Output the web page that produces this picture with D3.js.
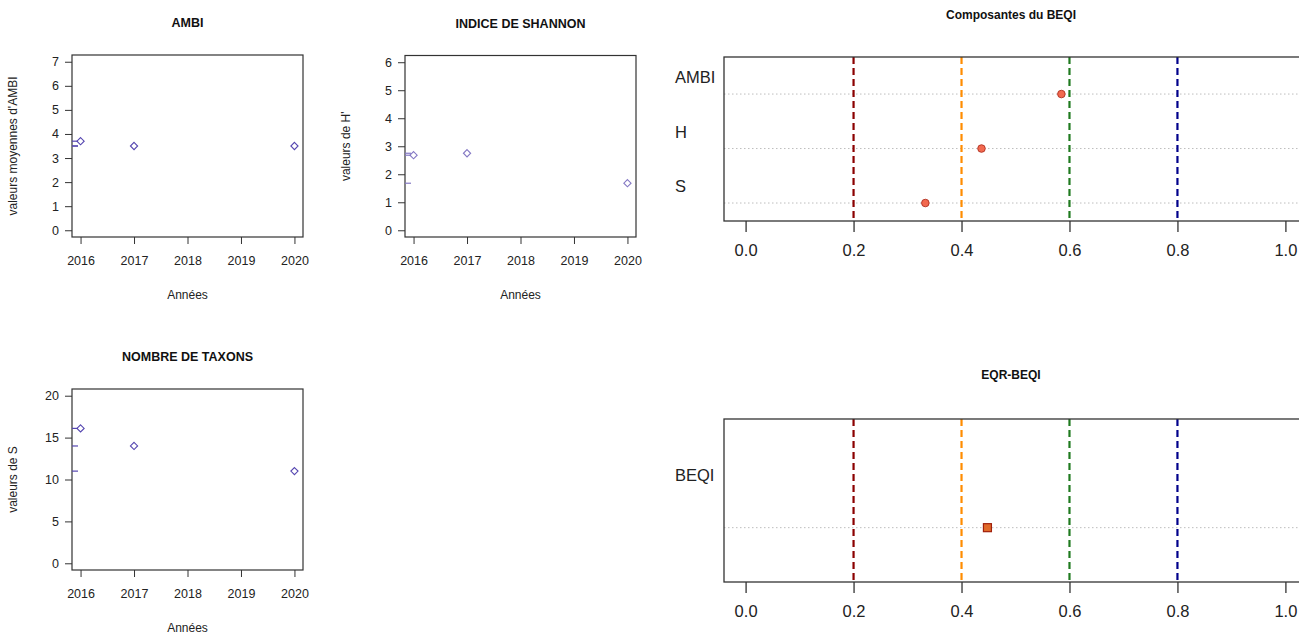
<!DOCTYPE html>
<html><head><meta charset="utf-8">
<script src="https://cdn.jsdelivr.net/npm/d3@7/dist/d3.min.js"></script>
<style>
body{margin:0;background:#fff;}
svg{display:block;font-family:"Liberation Sans",Arial,sans-serif;}
</style></head>
<body><svg id="c" width="1299" height="634"></svg>
<script>
// ---- data ----
const years = [2016, 2017, 2020];
const yearTicks = [2016, 2017, 2018, 2019, 2020];
const ambiValues = [3.7, 3.5, 3.5];
const shannonValues = [2.68, 2.75, 1.68];
const taxonValues = [16.1, 14, 11];
const ambiTicks = [0, 1, 2, 3, 4, 5, 6, 7];
const shannonTicks = [0, 1, 2, 3, 4, 5, 6];
const taxonTicks = [0, 5, 10, 15, 20];
const componentNames = ["AMBI", "H", "S"];
const componentValues = [0.585, 0.437, 0.333];
const eqrNames = ["BEQI"];
const eqrValues = [0.448];
const thresholds = [0.2, 0.4, 0.6, 0.8];
const thresholdColors = ["#8b0000", "#ff8c00", "#1f7a1f", "#00008b"];
const eqrTicks = [0, 0.2, 0.4, 0.6, 0.8, 1.0];

const svg = d3.select("#c");
const frameCol = "#333";

function smallPlot(o) {
  const g = svg.append("g");
  const x = d3.scaleLinear().domain([2015.84, 2020.16]).range([o.left, o.right]);
  const ext = (o.ymax) * 0.04;
  const y = d3.scaleLinear().domain([-ext, o.ymax + ext]).range([o.bottom, o.top]);
  // title
  g.append("text").attr("x", (o.left + o.right) / 2).attr("y", o.top - 28)
    .attr("text-anchor", "middle").attr("font-weight", "bold").attr("font-size", 12.5)
    .attr("fill", "#111").text(o.title);
  // frame
  g.append("rect").attr("x", o.left).attr("y", o.top).attr("width", o.right - o.left)
    .attr("height", o.bottom - o.top).attr("fill", "none").attr("stroke", frameCol).attr("stroke-width", 1.2);
  // x axis
  const xa = g.append("g").attr("transform", `translate(0,${o.bottom})`)
    .call(d3.axisBottom(x).tickValues(yearTicks).tickFormat(d3.format("d")).tickSize(7).tickPadding(12));
  xa.select(".domain").remove();
  xa.selectAll("line").attr("stroke", frameCol);
  xa.selectAll("text").attr("font-size", 12.5).attr("fill", "#222").attr("font-family", "Liberation Sans, Arial");
  // y axis
  const ya = g.append("g").attr("transform", `translate(${o.left},0)`)
    .call(d3.axisLeft(y).tickValues(o.ticks).tickFormat(d3.format("d")).tickSize(7).tickPadding(6));
  ya.select(".domain").remove();
  ya.selectAll("line").attr("stroke", frameCol);
  ya.selectAll("text").attr("font-size", 12.5).attr("fill", "#222").attr("font-family", "Liberation Sans, Arial");
  // labels
  g.append("text").attr("x", (o.left + o.right) / 2).attr("y", o.bottom + 62)
    .attr("text-anchor", "middle").attr("font-size", 12).attr("fill", "#222").text("Années");
  g.append("text").attr("transform", `translate(${o.left - 55},${(o.top + o.bottom) / 2}) rotate(-90)`)
    .attr("text-anchor", "middle").attr("font-size", 12).attr("fill", "#222").text(o.ylab);
  // rug
  g.selectAll(".rug").data(o.values).enter().append("line")
    .attr("x1", o.left).attr("x2", o.left + 6)
    .attr("y1", d => y(d)).attr("y2", d => y(d))
    .attr("stroke", o.color).attr("stroke-width", 1.2);
  // points
  g.selectAll(".pt").data(o.values).enter().append("path")
    .attr("d", "M0,-3.6L3.6,0L0,3.6L-3.6,0Z")
    .attr("transform", (d, i) => `translate(${x(years[i])},${y(d)})`)
    .attr("fill", "none").attr("stroke", o.color).attr("stroke-width", 1.1);
}

smallPlot({left: 72, right: 303, top: 55, bottom: 237, ymax: 7, ticks: ambiTicks,
  values: ambiValues, title: "AMBI", ylab: "valeurs moyennes d'AMBI", color: "#5546b0"});
smallPlot({left: 405, right: 636, top: 55.5, bottom: 237, ymax: 6, ticks: shannonTicks,
  values: shannonValues, title: "INDICE DE SHANNON", ylab: "valeurs de H'", color: "#8478c4"});
smallPlot({left: 72, right: 303, top: 389, bottom: 570, ymax: 20, ticks: taxonTicks,
  values: taxonValues, title: "NOMBRE DE TAXONS", ylab: "valeurs de S", color: "#5546b0"});

function dotPanel(o) {
  const g = svg.append("g");
  const x = d3.scaleLinear().domain([-0.04, 1.04]).range([724, 1307]);
  const n = o.names.length;
  const y = d3.scaleLinear().domain(o.ydom).range([o.bottom, o.top]);
  g.append("text").attr("x", 1011).attr("y", o.top - o.titleGap).attr("text-anchor", "middle")
    .attr("font-weight", "bold").attr("font-size", 12).attr("fill", "#111").text(o.title);
  // gridlines
  g.selectAll(".grid").data(o.names).enter().append("line")
    .attr("x1", 724).attr("x2", 1307)
    .attr("y1", (d, i) => y(n - i)).attr("y2", (d, i) => y(n - i))
    .attr("stroke", "#bdbdbd").attr("stroke-width", 1).attr("stroke-dasharray", "1.5,2.5");
  // thresholds
  g.selectAll(".thr").data(thresholds).enter().append("line")
    .attr("x1", d => x(d)).attr("x2", d => x(d)).attr("y1", o.top).attr("y2", o.bottom)
    .attr("stroke", (d, i) => thresholdColors[i]).attr("stroke-width", 2.2)
    .attr("stroke-dasharray", "7,4");
  // frame
  g.append("rect").attr("x", 724).attr("y", o.top).attr("width", 1307 - 724)
    .attr("height", o.bottom - o.top).attr("fill", "none").attr("stroke", frameCol).attr("stroke-width", 1.3);
  // x axis
  const xa = g.append("g").attr("transform", `translate(0,${o.bottom})`)
    .call(d3.axisBottom(x).tickValues(eqrTicks).tickFormat(d3.format(".1f")).tickSize(11).tickPadding(12));
  xa.select(".domain").remove();
  xa.selectAll("line").attr("stroke", frameCol).attr("stroke-width", 1.3);
  xa.selectAll("text").attr("font-size", 16.5).attr("fill", "#222").attr("font-family", "Liberation Sans, Arial");
  // labels
  g.selectAll(".lab").data(o.names).enter().append("text")
    .attr("x", 675).attr("y", (d, i) => y(n - i + o.labOffset))
    .attr("dominant-baseline", "central").attr("font-size", 16.5).attr("fill", "#222").text(d => d);
  // points
  if (o.square) {
    g.selectAll(".pt").data(o.values).enter().append("rect")
      .attr("x", d => x(d) - 4).attr("y", (d, i) => y(n - i) - 4).attr("width", 8).attr("height", 8)
      .attr("fill", "#e06a2a").attr("stroke", "#a0200c").attr("stroke-width", 1.2);
  } else {
    g.selectAll(".pt").data(o.values).enter().append("circle")
      .attr("cx", d => x(d)).attr("cy", (d, i) => y(n - i)).attr("r", 3.8)
      .attr("fill", "#f2694f").attr("stroke", "#b03020").attr("stroke-width", 0.9);
  }
}

dotPanel({names: componentNames, values: componentValues, top: 57, bottom: 221,
  ydom: [0.67, 3.68], labOffset: 0.31, title: "Composantes du BEQI", titleGap: 38, square: false});
dotPanel({names: eqrNames, values: eqrValues, top: 419, bottom: 582,
  ydom: [0, 3], labOffset: 0.97, title: "EQR-BEQI", titleGap: 40, square: true});
</script></body></html>
